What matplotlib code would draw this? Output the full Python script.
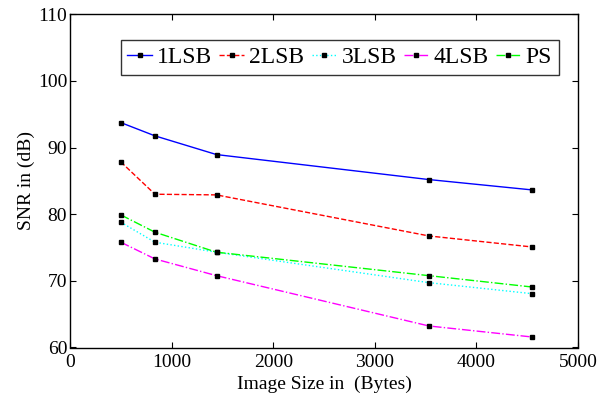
import matplotlib
matplotlib.use("Agg")
import matplotlib.pyplot as plt

plt.rcParams['font.family'] = ['Liberation Serif', 'DejaVu Serif']
plt.rcParams['mathtext.fontset'] = 'stix'

x_sizes = [500, 836, 1442, 3533, 4546]
snr_1lsb = [93.75, 91.76, 88.95, 85.2, 83.65]
snr_2lsb = [87.85, 83.0, 82.9, 76.74, 75.09]
snr_3lsb = [78.8, 75.8, 74.3, 69.73, 68.08]
snr_4lsb = [75.8, 73.29, 70.78, 63.23, 61.58]
snr_ps = [79.9, 77.3, 74.3, 70.78, 69.08]
labels = ['1LSB', '2LSB', '3LSB', '4LSB', 'PS']

fig = plt.figure(figsize=(6.01, 3.94), dpi=100)
ax = fig.add_axes([70/601, 1-347.5/394, (578-70)/601, (347.5-14.3)/394])

series = [snr_1lsb, snr_2lsb, snr_3lsb, snr_4lsb, snr_ps]
colors = ['#0000ff', '#ff0000', '#00ffff', '#ff00ff', '#00ff00']
styles = ['-', '--', ':', '-.', '-.']
for y, c, ls, lab in zip(series, colors, styles, labels):
    ax.plot(x_sizes, y, color=c, linestyle=ls, linewidth=1.0, marker='s',
            markersize=2.2, markerfacecolor='k', markeredgecolor='k', label=lab)

ax.set_xlim(0, 5000)
ax.set_ylim(60, 110)
ax.set_xticks([0, 1000, 2000, 3000, 4000, 5000])
ax.set_yticks([60, 70, 80, 90, 100, 110])
ax.tick_params(direction='in', top=True, right=True, labelsize=14, length=4)
ax.tick_params(axis='x', pad=5)
ax.tick_params(axis='y', pad=2)
ax.set_xlabel('Image Size in  (Bytes)', fontsize=14, labelpad=3)
ax.set_ylabel('SNR in (dB)', fontsize=14, labelpad=2)

leg = ax.legend(ncol=5, loc='upper center', bbox_to_anchor=(0.531, 0.922), fontsize=17,
                handlelength=1.05, handletextpad=0.22, columnspacing=0.3, numpoints=1,
                frameon=True, fancybox=False, edgecolor='k', borderpad=0.28,
                borderaxespad=0)
leg.get_frame().set_linewidth(1.0)
for sp in ax.spines.values():
    sp.set_linewidth(1.0)

fig.savefig('out.png', dpi=100)
